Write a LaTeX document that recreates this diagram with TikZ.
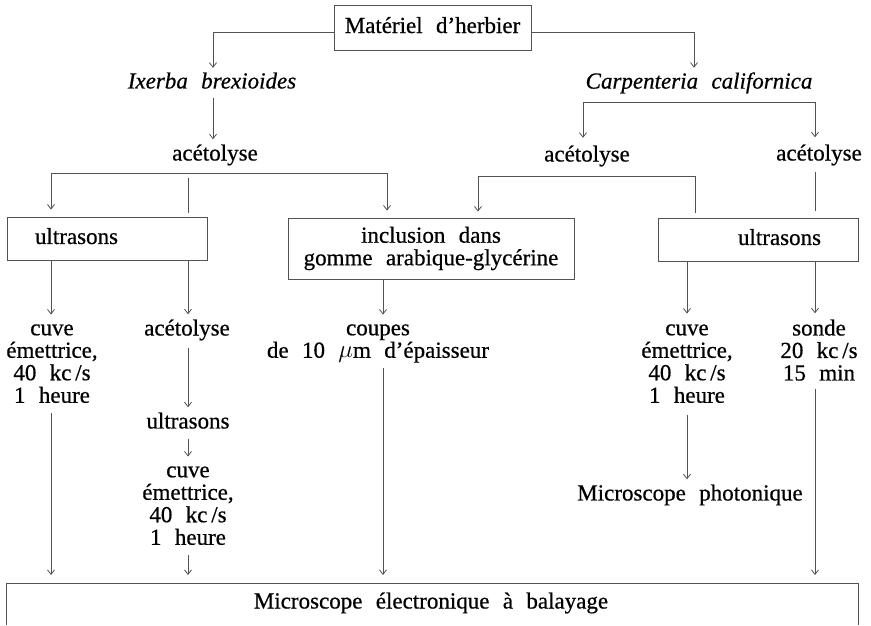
\documentclass[tikz,border=0pt]{standalone}
\usepackage{fontspec}
\setmainfont{Liberation Serif}[UprightFeatures={FakeBold=0.6}, ItalicFeatures={FakeBold=0.6}]
\usetikzlibrary{arrows.meta}
\newcommand{\zs}{\rule[-5pt]{0pt}{20.5pt}}
\newcommand{\nodefnt}{\fontsize{23}{22.5}\selectfont\spaceskip=0.58em plus 0.1em\relax}
\colorlet{lc}{black!68}
\begin{document}
\begin{tikzpicture}[x=1pt,y=-1pt,
  every node/.style={font=\nodefnt, inner sep=0pt, text=black},
  txt/.style={align=center},
  box/.style={draw=lc, line width=0.9pt},
  conn/.style={draw=lc, line width=0.8pt},
  arr/.style={conn, -{Straight Barb[length=4.5pt,width=7pt]}}]
\useasboundingbox (0,0) rectangle (871,625);

% boxes
\node[box, minimum width=197pt, minimum height=45pt] (mat) at (432.5,27.5) {\zs Matériel d’herbier};
\node[box, minimum height=43pt, text width=200pt, align=left] (us1) at (107,238.5) {\hspace*{28pt}\zs ultrasons};
\node[box, minimum width=286pt, minimum height=61pt, txt] (inc) at (431,248.5) {\zs inclusion dans\\\zs gomme arabique-glycérine};
\node[box, minimum height=43pt, text width=200pt, align=left] (us2) at (758,239.5) {\hspace*{80pt}\zs ultrasons};
\node[minimum width=851pt, minimum height=42pt, anchor=north] (melbox) at (432.5,583) {};
\draw[box] (melbox.south west) -- (melbox.north west) -- (melbox.north east) -- (melbox.south east);
\node (mel) at (431,603) {\zs Microscope électronique à balayage};

% text nodes
\node (ixe) at (212,83) {\itshape\zs Ixerba brexioides};
\node (car) at (699,83) {\itshape\zs Carpenteria californica};
\node (ac1) at (215,155) {\zs acétolyse};
\node (ac2) at (587,156) {\zs acétolyse};
\node (ac3) at (819,155) {\zs acétolyse};
\node[txt] (cuve1) at (52,363.75) {\zs cuve\\\zs émettrice,\\\zs 40 kc\,/s\\\zs 1 heure};
\node (ac4) at (187,330) {\zs acétolyse};
\node (us3) at (188,423) {\zs ultrasons};
\node[txt] (cuve3) at (188,505.75) {\zs cuve\\\zs émettrice,\\\zs 40 kc\,/s\\\zs 1 heure};
\node[txt] (cou) at (378,341.25) {\zs coupes\\\zs de 10 $\mu$m d’épaisseur};
\node[txt] (cuve2) at (687,363.75) {\zs cuve\\\zs émettrice,\\\zs 40 kc\,/s\\\zs 1 heure};
\node[txt] (sonde) at (819,352.5) {\zs sonde\\\zs 20 kc\,/s\\\zs 15 min};
\node (mp) at (690,495) {\zs Microscope photonique};

% helper coordinates
\coordinate (cb1) at (583,102);
\coordinate (cb2) at (815,102);
\coordinate (ab1) at (51,173);
\coordinate (ab2) at (387,173);
\coordinate (ab3) at (188,173);
\coordinate (bb1) at (478,176);
\coordinate (bb2) at (695,176);
\coordinate (xc) at (383,300);

% top level
\draw[arr, shorten >=4.5pt] ([yshift=-4.5pt]mat.west) -| ([xshift=1pt]ixe.north);
\draw[arr, shorten >=4.5pt] ([yshift=-4.5pt]mat.east) -| ([xshift=-5pt]car.north);
\draw[arr, shorten <=4pt, shorten >=5pt] ([xshift=1pt]ixe.south) -- ([xshift=-2pt]ac1.north);

% Carpenteria branch
\draw[conn] (cb1) -- (cb2);
\draw[arr, shorten >=7.5pt] (cb1) -- (cb1 |- ac2.north);
\draw[arr, shorten >=7pt] (cb2) -- (cb2 |- ac3.north);

% acetolyse (Ixerba) branch
\draw[conn] (ab1) -- (ab2);
\draw[arr, shorten >=7pt] (ab1) -- (ab1 |- us1.north);
\draw[arr, shorten >=7pt] (ab2) -- (ab2 |- inc.north);
\draw[conn, shorten <=5pt, shorten >=4pt] (ab3) -- (ab3 |- us1.north);

% acetolyse (Carpenteria, left)
\draw[conn] (bb1) -- (bb2);
\draw[arr, shorten >=6pt] (bb1) -- (bb1 |- inc.north);
\draw[conn, shorten >=5pt] (bb2) -- (bb2 |- us2.north);

% acetolyse (Carpenteria, right)
\draw[conn, shorten <=6.5pt, shorten >=7pt] (cb2 |- ac3.south) -- (cb2 |- us2.north);

% below boxes
\draw[arr, shorten >=5pt] (ab1 |- us1.south) -- (ab1 |- cuve1.north);
\draw[arr, shorten >=5pt] (ab3 |- us1.south) -- (ab3 |- ac4.north);
\draw[arr, shorten >=5pt] (xc |- inc.south) -- (xc |- cou.north);
\draw[arr, shorten >=6pt] (cuve2 |- us2.south) -- (cuve2.north);
\draw[arr, shorten >=6pt] (cb2 |- us2.south) -- (cb2 |- sonde.north);

% middle chain
\draw[arr, shorten <=7pt, shorten >=5pt] (ab3 |- ac4.south) -- (ab3 |- us3.north);
\draw[arr, shorten <=5pt, shorten >=5pt] (ab3 |- us3.south) -- (ab3 |- cuve3.north);

% to the microscopes
\draw[arr, shorten <=5pt, shorten >=8pt] (ab3 |- cuve3.south) -- (ab3 |- melbox.north);
\draw[arr, shorten <=5pt, shorten >=8pt] (ab1 |- cuve1.south) -- (ab1 |- melbox.north);
\draw[arr, shorten <=5pt, shorten >=8pt] (xc |- cou.south) -- (xc |- melbox.north);
\draw[arr, shorten <=7pt, shorten >=5pt] (cuve2.south) -- (cuve2 |- mp.north);
\draw[arr, shorten <=3pt, shorten >=8pt] (cb2 |- sonde.south) -- (cb2 |- melbox.north);
\end{tikzpicture}
\end{document}
